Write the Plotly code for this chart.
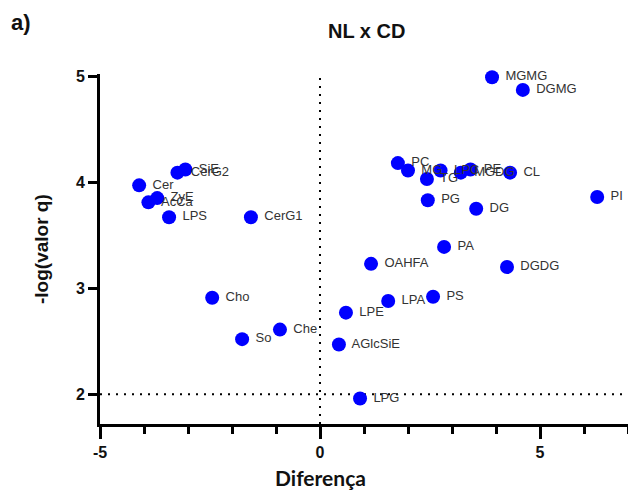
import plotly.graph_objects as go

# Data
lipids = ["MGMG", "DGMG", "PC", "MG", "TG", "LPC", "MGDG", "PE", "CL", "PI",
          "PG", "DG", "PA", "OAHFA", "DGDG", "PS", "LPA", "LPE", "AGlcSiE", "LPG",
          "Che", "So", "Cho", "CerG1", "LPS", "Cer", "ZyE", "AcCa", "CerG2", "SiE"]
diferenca = [3.91, 4.61, 1.77, 2.00, 2.43, 2.74, 3.20, 3.42, 4.32, 6.30,
             2.45, 3.55, 2.82, 1.16, 4.25, 2.57, 1.55, 0.59, 0.43, 0.91,
             -0.91, -1.77, -2.45, -1.57, -3.43, -4.11, -3.70, -3.90, -3.24, -3.06]
neglogq = [4.99, 4.87, 4.18, 4.11, 4.03, 4.11, 4.09, 4.12, 4.09, 3.86,
           3.83, 3.75, 3.39, 3.23, 3.20, 2.92, 2.88, 2.77, 2.47, 1.96,
           2.61, 2.52, 2.91, 3.67, 3.67, 3.97, 3.85, 3.81, 4.09, 4.12]

x_ticks = [-5, 0, 5]
y_ticks = [2, 3, 4, 5]
q_threshold = 2

fig = go.Figure()
fig.add_trace(go.Scatter(
    x=diferenca, y=neglogq, mode="markers+text",
    text=[" " + t for t in lipids], textposition="middle right",
    textfont=dict(family="Liberation Sans, Arial", size=13, color="#333333"),
    marker=dict(size=14, color="#0000FF", line=dict(width=0)),
    cliponaxis=False, showlegend=False, hoverinfo="skip",
))

# reference lines
fig.add_shape(type="line", xref="x", yref="y", x0=-5, x1=7, y0=q_threshold, y1=q_threshold,
              line=dict(color="black", width=2, dash="2px,6px"), layer="below")
fig.add_shape(type="line", xref="x", yref="y", x0=0, x1=0, y0=1.72, y1=5.0,
              line=dict(color="black", width=2, dash="2px,6px"), layer="below")

tickfont = dict(family="Liberation Sans, Arial", size=16, color="#111111", weight="bold")
fig.update_xaxes(
    range=[-5, 7], tickvals=x_ticks, ticktext=[str(v) for v in x_ticks],
    showgrid=False, zeroline=False, showline=True, linecolor="black", linewidth=3,
    ticks="outside", ticklen=12, tickwidth=3, tickcolor="black", tickfont=tickfont,
    automargin=False,
    minor=dict(dtick=1, tick0=0, ticks="outside", ticklen=7, tickwidth=3, tickcolor="black", showgrid=False),
)
fig.update_yaxes(
    range=[1.72, 5.02], tickvals=y_ticks, ticktext=[str(v) for v in y_ticks],
    showgrid=False, zeroline=False, showline=True, linecolor="black", linewidth=3,
    ticks="outside", ticklen=9, tickwidth=3, tickcolor="black", tickfont=tickfont,
    automargin=False,
)

fig.update_layout(
    width=628, height=495,
    margin=dict(l=100, r=0, t=74, b=71, autoexpand=False),
    plot_bgcolor="white", paper_bgcolor="white",
    annotations=[
        dict(text="NL x CD", xref="paper", yref="paper", x=(366-100)/528, y=1 + (74-31)/350,
             showarrow=False, xanchor="center", yanchor="middle",
             font=dict(family="Liberation Sans, Arial", size=20, color="#111111", weight="bold")),
        dict(text="a)", xref="paper", yref="paper", x=(21-100)/528, y=1 + (74-22)/350,
             showarrow=False, xanchor="center", yanchor="middle",
             font=dict(family="Liberation Sans, Arial", size=22, color="#111111", weight="bold")),
        dict(text="Diferença", xref="paper", yref="paper", x=(320-100)/528, y=-(477-424)/350,
             showarrow=False, xanchor="center", yanchor="middle",
             font=dict(family="Lato, Liberation Sans", size=21, color="#111111", weight="bold")),
        dict(text="-log(valor q)", xref="paper", yref="paper", x=(41-100)/528, y=0.5,
             showarrow=False, xanchor="center", yanchor="middle", textangle=-90,
             font=dict(family="Liberation Sans, Arial", size=19, color="#111111", weight="bold")),
    ],
)

fig.write_html("out.html", config={"displayModeBar": False},
               post_script="document.body.style.margin='0px';document.body.style.overflow='hidden';")
